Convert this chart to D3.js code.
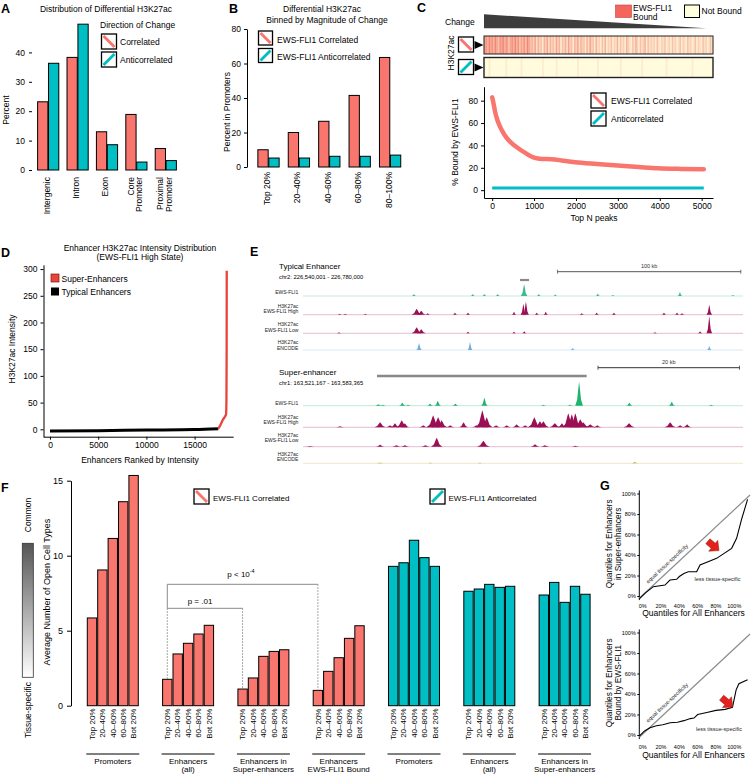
<!DOCTYPE html>
<html><head><meta charset="utf-8">
<script src="https://cdn.jsdelivr.net/npm/d3@7"></script>
<style>
html,body{margin:0;padding:0;background:#fff;}
svg{display:block;}
</style></head><body>
<svg id="fig" width="754" height="774"></svg>
<script>
// ================= DATA =================
// Panel A
const aCats = ["Intergenic","Intron","Exon","Core Promoter","Proximal Promoter"];
const aCorr = [23.2, 38.3, 13, 18.9, 7.3];
const aAnti = [36.3, 49.6, 8.6, 2.7, 3.2];
const aTicks = [0,10,20,30,40];
// Panel B
const bBins = ["Top 20%","20–40%","40–60%","60–80%","80–100%"];
const bCorr = [10, 20, 26.5, 41.5, 63.5];
const bAnti = [5.2, 5.2, 6.2, 6.2, 6.9];
const bTicks = [0,20,40,60,80];
// Panel C
const cStripes1 = "675867586476857646758574657486" + "4536253415362534263514352634153625341526" +
                  "3415231425132413251423153214253142351423" + "2314213241231423124132142312413214231241";
const cStripes2 = "000100000000001000000000100000000000001000000001000000000000010000000000001000000000000001000000000000010000000000000001000000000000000010000000000000";
const cN    = [0, 30, 70, 130, 224, 340, 463, 620, 781, 1020, 1180, 1420, 1700, 1980, 2500, 2990, 3500, 3960, 4500, 5050];
const cCorr = [83, 78, 70, 62, 54, 47, 42, 37.5, 33.5, 28.8, 27.9, 27.7, 26.3, 25, 23.4, 22, 20.7, 19.6, 19, 18.7];
const cAntiN = [0, 5050];
const cAnti = [2, 2];
const cXTicks = [0,1000,2000,3000,4000,5000];
const cYTicks = [0,20,40,60,80];
// Panel D
const dRankTypical = [0, 5000, 10000, 15000, 17460];
const dIntTypical  = [-3.2, -2.5, -1.5, -0.5, 1];
const dRankSuper = [17460, 17700, 17914, 18150, 18257, 18300, 18320, 18330];
const dIntSuper  = [1, 9, 17.4, 24, 28, 55, 150, 297];
const dXTicks = [0,5000,10000,15000];
const dYTicks = [0,50,100,150,200,250,300];
// Panel E  ([position kb, signal, half-width kb])
const eTypEWS  = [[60.5,2],[92.6,2],[98.9,2],[106.2,2],[120.6,12,1.8],[128.6,2],[137.6,1.5],[160.8,2.5],[169,1],[205.6,4],[234.5,1]];
const eTypHigh = [[20,1],[23,1],[34,1],[62,6,2.8],[64.5,4,2.5],[68,1.5],[82.9,2],[90,2],[115.1,3],[120.2,11,1.5],[121.6,13,1.6],[127.5,2],[132.4,3],[152,1.5],[160.2,2],[169.6,2],[196.9,2],[204,2],[206.7,1.5],[221.6,10,1.5]];
const eTypLow  = [[19.6,1],[62,6,2.8],[64.5,4,2.5],[90,1.5],[115.1,1.5],[120.7,2],[192,1],[216.6,2],[221.6,17,1.5]];
const eTypEnc  = [[63.3,7,1.5],[91.1,8,1.3],[147.1,2],[221.6,4]];
const eSEEWS  = [[10.65,1.5],[11.3,1],[14.04,3],[14.85,1],[17.96,2],[19.05,5],[21.54,2],[25.64,8],[33.98,1],[37.75,1],[39.03,24,0.55],[46.14,3],[52.13,4],[57.7,1]];
const eSEHigh = [[5.23,1],[10.9,5,0.8],[12.3,2],[13.0,4],[13.96,7,0.8],[14.4,4],[17,2],[18,3],[18.4,12,0.9],[19.1,10,0.9],[19.6,7,0.8],[20.8,2],[22.7,5],[24.5,2],[25.35,17,0.9],[25.97,10,0.8],[27.3,2],[28.8,2],[30.2,3],[31.4,2],[32.7,10,0.9],[33.5,6,0.8],[33.98,6,0.8],[35.6,4,0.8],[36.6,4],[37.5,14,0.8],[38.0,13,0.8],[38.5,14,0.8],[39.2,8,0.9],[39.6,5,0.9],[40.6,3,0.8],[41.6,2],[46.1,4,0.8],[51.9,5,0.8],[53.3,2],[54.3,3]];
const eSELow  = [[1,0.6],[10.9,2],[13.2,1.5],[14.4,1.5],[17.3,1.5],[18.9,9,0.8],[25.5,6,0.9],[32.8,2.5],[34.2,1.5],[38.5,1]];
const eSEEnc  = [[10.9,0.8],[18,0.6],[25,0.6],[46.9,1.2]];
const eTypRegion = [118.4, 123.3];
const eSERegion = [10.46, 40.1];
const eTypScale = [138.8, 100];
const eSEScale = [41.7, 20];
// Panel F
const fBins = ["Top 20%","20–40%","40–60%","60–80%","Bot 20%"];
const fGroups = ["Promoters","Enhancers|(all)","Enhancers in|Super-enhancers","Enhancers|EWS-FLI1 Bound","Promoters","Enhancers|(all)","Enhancers in|Super-enhancers"];
const fDirection = ["corr","corr","corr","corr","anti","anti","anti"];
const fCorrPromoters = [5.85, 9.05, 11.15, 13.6, 15.35];
const fCorrEnhAll    = [1.76, 3.45, 4.16, 4.78, 5.36];
const fCorrEnhSE     = [1.11, 1.85, 3.29, 3.62, 3.73];
const fCorrEnhBound  = [1.02, 2.29, 3.2, 4.49, 5.33];
const fAntiPromoters = [9.29, 9.53, 11.03, 9.87, 9.29];
const fAntiEnhAll    = [7.63, 7.78, 8.09, 7.89, 7.96];
const fAntiEnhSE     = [7.38, 8.22, 6.89, 7.96, 7.43];
const fTicks = [0,5,10,15];
// Panel G
const gTicks = [0,20,40,60,80,100];
const gTickLabels = ["0%","20%","40%","60%","80%","100%"];
const gDiagX = [-3.7, 117.2];
const gDiagY = [-2.2, 98.5];
const gTopX = [-3.7, 3, 11.6, 24.3, 29.8, 37, 40, 45, 49.8, 58.9, 62.6, 70, 80.7, 97.1, 102.5, 108, 114.5];
const gTopY = [-2.9, 3, 9.1, 10.7, 15.6, 16.3, 19, 22, 23.7, 23.7, 30.2, 33, 36.7, 46.5, 56.3, 75, 94.3];
const gBotX = [-3.7, 2, 8, 15, 22, 30, 38, 45, 52, 56, 60, 70, 80, 90, 98, 102, 105, 114.5];
const gBotY = [-1, 4, 7, 9, 10, 12, 12.5, 14, 16, 16.5, 20, 22, 24, 25, 27, 44, 50, 54];

// ================= DRAWING =================
const FONT = "'Liberation Sans', Arial, Helvetica, sans-serif";
const RED = "#F8766D", TEAL = "#00BFC4";
const svg = d3.select("#fig").attr("font-family", FONT);
svg.append("rect").attr("width",754).attr("height",774).attr("fill","#fff");

function txt(g, x, y, s, o = {}) {
  const t = g.append("text").attr("x", x).attr("y", y).text(s)
    .attr("font-size", o.size || 8.5).attr("fill", o.fill || "#000")
    .attr("text-anchor", o.anchor || "start");
  if (o.weight) t.attr("font-weight", o.weight);
  if (o.rotate != null) t.attr("transform", `rotate(${o.rotate},${x},${y})`);
  return t;
}
function icon(g, x, y, s, kind) {
  g.append("rect").attr("x", x).attr("y", y).attr("width", s).attr("height", s)
    .attr("fill", "#fff").attr("stroke", "#000").attr("stroke-width", 1.3);
  const p = 2;
  if (kind === "corr")
    g.append("line").attr("x1", x + p).attr("y1", y + p).attr("x2", x + s - p).attr("y2", y + s - p)
      .attr("stroke", RED).attr("stroke-width", 2.8);
  else
    g.append("line").attr("x1", x + p).attr("y1", y + s - p).attr("x2", x + s - p).attr("y2", y + p)
      .attr("stroke", TEAL).attr("stroke-width", 2.8);
}
function styleAxis(g, size, keepDomain) {
  g.attr("font-family", FONT).attr("font-size", size);
  g.selectAll("text").attr("fill", "#000");
  g.selectAll("line").attr("stroke", "#000");
  if (!keepDomain) g.select(".domain").remove();
  else g.select(".domain").attr("stroke", "#000");
}
function rotLabel(g, cx, top, lines, size, gap) {
  const n = lines.length;
  lines.forEach((ln, j) => {
    const x = cx + (j - (n - 1) / 2) * gap + size * 0.35;
    txt(g, x, top, ln, { size: size, anchor: "end", rotate: -90 });
  });
}
const intFmt = d3.format("d");

// ---------- Panel A ----------
{
  const g = svg.append("g");
  txt(g, 1, 13, "A", { size: 12.5, weight: "bold" });
  txt(g, 106, 11.5, "Distribution of Differential H3K27ac", { anchor: "middle" });
  const x = d3.scaleBand().domain(aCats).range([33.5, 180.5]).paddingInner(0.28).paddingOuter(0.14);
  const x2 = d3.scaleBand().domain(["corr", "anti"]).range([0, x.bandwidth()]).paddingInner(0.06);
  const y = d3.scaleLinear().domain([0, 50]).range([170, 23]);
  const rows = aCats.map((c, i) => ({ c, corr: aCorr[i], anti: aAnti[i] }));
  rows.forEach(r => {
    [["corr", r.corr, RED], ["anti", r.anti, TEAL]].forEach(([k, v, col]) => {
      g.append("rect").attr("x", x(r.c) + x2(k)).attr("y", y(v)).attr("width", x2.bandwidth())
        .attr("height", y(0) - y(v)).attr("fill", col).attr("stroke", "#000").attr("stroke-width", 1);
    });
    rotLabel(g, x(r.c) + x.bandwidth() / 2 - 1.5, 177, r.c.split(" "), 8.5, 8.5);
  });
  const ax = g.append("g").attr("transform", "translate(32,0)")
    .call(d3.axisLeft(y).tickValues(aTicks).tickSize(3).tickPadding(4));
  styleAxis(ax, 8.5, false);
  txt(g, 8.5, 110, "Percent", { anchor: "middle", rotate: -90 });
  txt(g, 100, 28, "Direction of Change");
  icon(g, 101.5, 34, 15, "corr");
  icon(g, 101.5, 52, 15, "anti");
  txt(g, 120, 44.5, "Correlated");
  txt(g, 120, 63, "Anticorrelated");
}

// ---------- Panel B ----------
{
  const g = svg.append("g");
  txt(g, 229, 13, "B", { size: 12.5, weight: "bold" });
  txt(g, 322, 11.5, "Differential H3K27ac", { anchor: "middle" });
  txt(g, 327, 23, "Binned by Magnitude of Change", { anchor: "middle" });
  const x = d3.scaleBand().domain(bBins).range([253.3, 405.3]).paddingInner(0.3).paddingOuter(0.15);
  const x2 = d3.scaleBand().domain(["corr", "anti"]).range([0, x.bandwidth()]).paddingInner(0.06);
  const y = d3.scaleLinear().domain([0, 80]).range([167, 29]);
  bBins.forEach((c, i) => {
    [["corr", bCorr[i], RED], ["anti", bAnti[i], TEAL]].forEach(([k, v, col]) => {
      g.append("rect").attr("x", x(c) + x2(k)).attr("y", y(v)).attr("width", x2.bandwidth())
        .attr("height", y(0) - y(v)).attr("fill", col).attr("stroke", "#000").attr("stroke-width", 1);
    });
    rotLabel(g, x(c) + x.bandwidth() / 2 - 1.5, 172, [c], 8.5, 8.5);
  });
  const ax = g.append("g").attr("transform", "translate(247,0)")
    .call(d3.axisLeft(y).tickValues(bTicks).tickSize(3).tickSizeOuter(0).tickPadding(3));
  styleAxis(ax, 8.5, true);
  txt(g, 229.5, 112, "Percent in Promoters", { anchor: "middle", rotate: -90 });
  icon(g, 258.5, 31, 14, "corr");
  icon(g, 258.5, 48.5, 14, "anti");
  txt(g, 277, 42.5, "EWS-FLI1 Correlated");
  txt(g, 277, 60, "EWS-FLI1 Anticorrelated");
}

// ---------- Panel C ----------
{
  const g = svg.append("g");
  txt(g, 417, 12, "C", { size: 12.5, weight: "bold" });
  const xH = d3.scaleBand().domain(d3.range(cStripes1.length)).range([484, 713]);
  const [h0, h1] = xH.range();
  g.append("polygon").attr("points", [[h0, 14.3], [h0, 28.3], [h0 + (h1 - h0) * 0.97, 28.3]].map(p => p.join(",")).join(" "))
    .attr("fill", "#3d3d3d");
  txt(g, 445, 24.5, "Change");
  g.append("rect").attr("x", 615.5).attr("y", 5).attr("width", 16).attr("height", 12.5).attr("fill", "#F4655C").attr("stroke", "#b44").attr("stroke-width", 0.6);
  txt(g, 633, 10.5, "EWS-FLI1");
  txt(g, 633, 19.5, "Bound");
  g.append("rect").attr("x", 684.5).attr("y", 5).attr("width", 15).attr("height", 12.5).attr("fill", "#FFFFDF").attr("stroke", "#000").attr("stroke-width", 1);
  txt(g, 701.5, 14, "Not Bound");
  const cream = "#FFFBDC", hot = "#EE5A50";
  const col = d => d3.interpolateRgb(cream, hot)(+d / 11);
  const rowsY = [[36, 18], [57.5, 20]];
  [cStripes1, cStripes2].forEach((s, r) => {
    const [ry, rh] = rowsY[r];
    g.append("rect").attr("x", h0).attr("y", ry).attr("width", h1 - h0).attr("height", rh).attr("fill", cream);
    s.split("").forEach((d, i) => {
      if (+d > 0) g.append("rect").attr("x", xH(i)).attr("y", ry).attr("width", xH.bandwidth() + 0.3).attr("height", rh).attr("fill", col(d));
    });
    g.append("rect").attr("x", h0).attr("y", ry).attr("width", h1 - h0).attr("height", rh).attr("fill", "none").attr("stroke", "#222").attr("stroke-width", r === 0 ? 1 : 1.4);
    icon(g, 458.5, ry + 1 + r * 1, 15, r === 0 ? "corr" : "anti");
    const cy = ry + rh / 2;
    g.append("polygon").attr("points", `474.5,${cy - 4} 474.5,${cy + 4} 483.5,${cy}`).attr("fill", "#000");
  });
  txt(g, 453.5, 53, "H3K27ac", { anchor: "middle", rotate: -90 });
  const x = d3.scaleLinear().domain([-195, 5270]).range([484, 713]);
  const y = d3.scaleLinear().domain([-7, 92.5]).range([198, 86.7]);
  const ax = g.append("g").attr("transform", "translate(0,198)")
    .call(d3.axisBottom(x).tickValues(cXTicks).tickFormat(intFmt).tickSize(3).tickSizeOuter(0).tickPadding(2));
  styleAxis(ax, 8.5, true);
  const ay = g.append("g").attr("transform", "translate(484,0)")
    .call(d3.axisLeft(y).tickValues(cYTicks).tickSize(3).tickSizeOuter(0).tickPadding(3));
  styleAxis(ay, 8.5, true);
  const line = d3.line().x(d => x(d[0])).y(d => y(d[1])).curve(d3.curveMonotoneX);
  g.append("path").attr("d", line(cAntiN.map((n, i) => [n, cAnti[i]]))).attr("fill", "none").attr("stroke", TEAL).attr("stroke-width", 3);
  g.append("path").attr("d", line(cN.map((n, i) => [n, cCorr[i]]))).attr("fill", "none").attr("stroke", RED).attr("stroke-width", 4.5).attr("stroke-linecap", "round");
  txt(g, 594, 221, "Top N peaks", { anchor: "middle" });
  txt(g, 458, 142, "% Bound by EWS-FLI1", { anchor: "middle", rotate: -90 });
  icon(g, 591, 93, 15, "corr");
  icon(g, 591, 111, 15, "anti");
  txt(g, 611, 104, "EWS-FLI1 Correlated");
  txt(g, 611, 121.5, "Anticorrelated");
}

// ---------- Panel D ----------
{
  const g = svg.append("g");
  txt(g, 1, 257, "D", { size: 12.5, weight: "bold" });
  txt(g, 140, 250.5, "Enhancer H3K27ac Intensity Distribution", { anchor: "middle" });
  txt(g, 140, 259.5, "(EWS-FLI1 High State)", { anchor: "middle" });
  const x = d3.scaleLinear().domain([-695, 19000]).range([43.3, 233.2]);
  const y = d3.scaleLinear().domain([-14, 308]).range([436.8, 264.8]);
  const ax = g.append("g").attr("transform", "translate(0,436.7)")
    .call(d3.axisBottom(x).tickValues(dXTicks).tickFormat(intFmt).tickSize(3).tickSizeOuter(0).tickPadding(2));
  styleAxis(ax, 8.5, true);
  const ay = g.append("g").attr("transform", "translate(43.5,0)")
    .call(d3.axisLeft(y).tickValues(dYTicks).tickSize(3).tickSizeOuter(0).tickPadding(3));
  styleAxis(ay, 8.5, true);
  const line = d3.line().x(d => x(d[0])).y(d => y(d[1])).curve(d3.curveMonotoneX);
  g.append("path").attr("d", line(dRankTypical.map((r, i) => [r, dIntTypical[i]]))).attr("fill", "none").attr("stroke", "#000").attr("stroke-width", 3);
  g.append("path").attr("d", line(dRankSuper.map((r, i) => [r, dIntSuper[i]]))).attr("fill", "none").attr("stroke", "#E8443C").attr("stroke-width", 2.3);
  txt(g, 140, 462.5, "Enhancers Ranked by Intensity", { anchor: "middle" });
  txt(g, 14.5, 349, "H3K27ac Intensity", { anchor: "middle", rotate: -90 });
  g.append("rect").attr("x", 51).attr("y", 274).attr("width", 8).attr("height", 8).attr("fill", "#E8443C").attr("stroke", "#7a1a14").attr("stroke-width", 0.7);
  txt(g, 61.5, 281.5, "Super-Enhancers");
  g.append("rect").attr("x", 51).attr("y", 287.5).attr("width", 8).attr("height", 8).attr("fill", "#000");
  txt(g, 61.5, 295, "Typical Enhancers");
}

// ---------- Panel E ----------
{
  const g = svg.append("g");
  txt(g, 250, 256, "E", { size: 12.5, weight: "bold" });
  const xT = d3.scaleLinear().domain([0, 240]).range([303, 743]);
  const xS = d3.scaleLinear().domain([0, 62.2]).range([303, 743]);
  const hS = d3.scaleLinear().domain([0, 30]).range([0, 30]);
  const drawTrack = (x, base, peaks, color, hwDef, labels, labelYs) => {
    g.append("line").attr("x1", x.range()[0]).attr("x2", x.range()[1]).attr("y1", base).attr("y2", base)
      .attr("stroke", color).attr("stroke-opacity", 0.35).attr("stroke-width", 0.8);
    peaks.forEach(p => {
      const [pos, h, hw0] = p; const hw = hw0 || hwDef;
      const pts = [[pos - hw, 0], [pos - hw * 0.5, h * 0.25], [pos - hw * 0.15, h * 0.8], [pos, h], [pos + hw * 0.15, h * 0.8], [pos + hw * 0.5, h * 0.25], [pos + hw, 0]];
      g.append("polygon").attr("points", pts.map(q => [x(q[0]), base - hS(q[1])].join(",")).join(" ")).attr("fill", color);
    });
    labels.forEach((l, i) => txt(g, 298.3, labelYs[i], l, { size: 5, anchor: "end", fill: "#222" }));
  };
  txt(g, 279, 268.5, "Typical Enhancer", { size: 8 });
  txt(g, 279, 278.5, "chr2: 226,540,001 - 226,780,000", { size: 5.8 });
  const sb1 = [xT(eTypScale[0]), xT(eTypScale[0] + eTypScale[1])];
  g.append("line").attr("x1", sb1[0]).attr("x2", sb1[1]).attr("y1", 271.7).attr("y2", 271.7).attr("stroke", "#555").attr("stroke-width", 1);
  sb1.forEach(v => g.append("line").attr("x1", v).attr("x2", v).attr("y1", 269.7).attr("y2", 273.7).attr("stroke", "#555").attr("stroke-width", 0.8));
  txt(g, (sb1[0] + sb1[1]) / 2, 268, "100 kb", { size: 5.5, anchor: "middle", fill: "#333" });
  g.append("line").attr("x1", xT(eTypRegion[0])).attr("x2", xT(eTypRegion[1])).attr("y1", 280).attr("y2", 280).attr("stroke", "#888").attr("stroke-width", 2.2);
  drawTrack(xT, 296, eTypEWS, "#3DBB8C", 1.2, ["EWS-FLI1"], [293.5]);
  drawTrack(xT, 314.7, eTypHigh, "#9B0F55", 1.2, ["H3K27ac", "EWS-FLI1 High"], [307.5, 313]);
  drawTrack(xT, 333.3, eTypLow, "#9B0F55", 1.2, ["H3K27ac", "EWS-FLI1 Low"], [326, 331.5]);
  drawTrack(xT, 350, eTypEnc, "#6FAEDB", 1.2, ["H3K27ac", "ENCODE"], [344, 349.5]);
  txt(g, 279, 374.5, "Super-enhancer", { size: 8 });
  txt(g, 279, 384.8, "chr1: 163,521,167 - 163,583,365", { size: 5.8 });
  const sb2 = [xS(eSEScale[0]), xS(eSEScale[0] + eSEScale[1])];
  g.append("line").attr("x1", sb2[0]).attr("x2", sb2[1]).attr("y1", 367.7).attr("y2", 367.7).attr("stroke", "#333").attr("stroke-width", 1);
  sb2.forEach(v => g.append("line").attr("x1", v).attr("x2", v).attr("y1", 365.7).attr("y2", 369.7).attr("stroke", "#333").attr("stroke-width", 0.8));
  txt(g, (sb2[0] + sb2[1]) / 2, 364, "20 kb", { size: 5.5, anchor: "middle", fill: "#333" });
  g.append("line").attr("x1", xS(eSERegion[0])).attr("x2", xS(eSERegion[1])).attr("y1", 376).attr("y2", 376).attr("stroke", "#888").attr("stroke-width", 2.5);
  drawTrack(xS, 405.7, eSEEWS, "#1DB46C", 0.45, ["EWS-FLI1"], [404.8]);
  drawTrack(xS, 427.3, eSEHigh, "#9B0F55", 0.6, ["H3K27ac", "EWS-FLI1 High"], [418.5, 423.5]);
  drawTrack(xS, 446.7, eSELow, "#9B0F55", 0.6, ["H3K27ac", "EWS-FLI1 Low"], [436.8, 441.8]);
  drawTrack(xS, 463.3, eSEEnc, "#C9A43A", 0.5, ["H3K27ac", "ENCODE"], [455.8, 460.8]);
}

// ---------- Panel F ----------
{
  const g = svg.append("g");
  txt(g, 1, 492, "F", { size: 12.5, weight: "bold" });
  const grad = svg.append("defs").append("linearGradient").attr("id", "gbar").attr("x1", 0).attr("y1", 0).attr("x2", 0).attr("y2", 1);
  grad.append("stop").attr("offset", "0").attr("stop-color", "#555");
  grad.append("stop").attr("offset", "1").attr("stop-color", "#fff");
  g.append("rect").attr("x", 22.3).attr("y", 543.3).attr("width", 11).attr("height", 134).attr("fill", "url(#gbar)").attr("stroke", "#333").attr("stroke-width", 0.8);
  txt(g, 31, 515, "Common", { anchor: "middle", rotate: -90 });
  txt(g, 31, 710, "Tissue-specific", { anchor: "middle", rotate: -90 });
  const fVals = [fCorrPromoters, fCorrEnhAll, fCorrEnhSE, fCorrEnhBound, fAntiPromoters, fAntiEnhAll, fAntiEnhSE];
  const xg = d3.scaleBand().domain(d3.range(fGroups.length)).range([87.3, 590.1]).paddingInner(0.323).paddingOuter(0);
  const xb = d3.scaleBand().domain(fBins).range([0, xg.bandwidth()]).paddingInner(0.1);
  const y = d3.scaleLinear().domain([0, 15]).range([705.7, 480.7]);
  fVals.forEach((vals, gi) => {
    const colr = fDirection[gi] === "corr" ? RED : TEAL;
    fBins.forEach((b, bi) => {
      const v = vals[bi];
      g.append("rect").attr("x", xg(gi) + xb(b)).attr("y", y(v)).attr("width", xb.bandwidth()).attr("height", y(0) - y(v))
        .attr("fill", colr).attr("stroke", "#000").attr("stroke-width", 1);
      rotLabel(g, xg(gi) + xb(b) + xb.bandwidth() / 2, 708.5, [b], 8, 8);
    });
    const gx0 = xg(gi) - 1, gx1 = xg(gi) + xg.bandwidth() + 1;
    g.append("line").attr("x1", gx0).attr("x2", gx1).attr("y1", 754).attr("y2", 754).attr("stroke", "#000").attr("stroke-width", 1);
    const lines = fGroups[gi].split("|");
    lines.forEach((l, j) => txt(g, (gx0 + gx1) / 2, 764 + j * 7.6, l, { size: 8, anchor: "middle" }));
  });
  const ay = g.append("g").attr("transform", "translate(71,0)")
    .call(d3.axisLeft(y).tickValues(fTicks).tickSize(4).tickSizeOuter(0).tickPadding(4));
  styleAxis(ay, 9, true);
  txt(g, 50, 592, "Average Number of Open Cell Types", { size: 9, anchor: "middle", rotate: -90 });
  icon(g, 194, 489, 15, "corr");
  txt(g, 213, 500.5, "EWS-FLI1 Correlated", { size: 8 });
  icon(g, 430, 489, 15, "anti");
  txt(g, 448.5, 500.5, "EWS-FLI1 Anticorrelated", { size: 8 });
  const cx = (gi, bi) => xg(gi) + xb(fBins[bi]) + xb.bandwidth() / 2;
  const yOuter = 584.3, yInner = 608.3;
  const gray = "#8a8a8a";
  const L = (x1, y1, x2, y2, dash) => {
    const l = g.append("line").attr("x1", x1).attr("y1", y1).attr("x2", x2).attr("y2", y2).attr("stroke", gray).attr("stroke-width", 1);
    if (dash) l.attr("stroke-dasharray", "1.5,1.5");
  };
  L(cx(1, 0), yOuter, cx(3, 0), yOuter);
  L(cx(1, 0), yOuter, cx(1, 0), yInner);
  L(cx(1, 0), yInner, cx(2, 0), yInner);
  L(cx(1, 0), yInner, cx(1, 0), y(fCorrEnhAll[0]), true);
  L(cx(2, 0), yInner, cx(2, 0), y(fCorrEnhSE[0]), true);
  L(cx(3, 0), yOuter, cx(3, 0), y(fCorrEnhBound[0]), true);
  const tp = txt(g, 241, 576.5, "p < 10", { size: 8, anchor: "middle" });
  tp.append("tspan").attr("dy", -3.5).attr("font-size", 5.5).text("-4");
  txt(g, 200, 603.5, "p = .01", { size: 8, anchor: "middle" });
}

// ---------- Panel G ----------
{
  const g = svg.append("g");
  txt(g, 600, 490, "G", { size: 12.5, weight: "bold" });
  const x = d3.scaleLinear().domain([0, 100]).range([642.7, 734.3]);
  const panels = [
    { y: d3.scaleLinear().domain([0, 100]).range([596, 493.5]), cx: gTopX, cy: gTopY, lab: ["Quantiles for Enhancers", "in Super-enhancers"], xlabY: 615.5, tickY: 608, arrow: [77, 49], less: [717.5, 580.5] },
    { y: d3.scaleLinear().domain([0, 100]).range([735, 632.5]), cx: gBotX, cy: gBotY, lab: ["Quantiles for Enhancers", "Bound by EWS-FLI1"], xlabY: 758, tickY: 748.5, arrow: [92, 32], less: [719, 730.5] }
  ];
  panels.forEach(P => {
    const y = P.y;
    const ay = g.append("g").attr("transform", "translate(639.3,0)")
      .call(d3.axisLeft(y).tickValues(gTicks).tickFormat((d, i) => gTickLabels[i]).tickSize(2).tickSizeOuter(0).tickPadding(1.5));
    styleAxis(ay, 5.5, false);
    g.append("line").attr("x1", 639.3).attr("x2", 639.3).attr("y1", y(-4)).attr("y2", y(103)).attr("stroke", "#000").attr("stroke-width", 1);
    gTicks.forEach((t, i) => txt(g, x(t), P.tickY, gTickLabels[i], { size: 5.5, anchor: "middle" }));
    txt(g, 693.5, P.xlabY, "Quantiles for All Enhancers", { size: 8.5, anchor: "middle" });
    const yc = (y(0) + y(100)) / 2 - 1;
    txt(g, 612.3, yc, P.lab[0], { size: 8.3, anchor: "middle", rotate: -90 });
    txt(g, 620.5, yc, P.lab[1], { size: 8.3, anchor: "middle", rotate: -90 });
    const line = d3.line().x(d => x(d[0])).y(d => y(d[1]));
    g.append("path").attr("d", line(gDiagX.map((v, i) => [v, gDiagY[i]]))).attr("stroke", "#8c8c8c").attr("stroke-width", 1.2).attr("fill", "none");
    g.append("path").attr("d", line(P.cx.map((v, i) => [v, P.cy[i]]))).attr("stroke", "#000").attr("stroke-width", 1.1).attr("fill", "none");
    const ang = Math.atan2(y(gDiagY[1]) - y(gDiagY[0]), x(gDiagX[1]) - x(gDiagX[0])) * 180 / Math.PI;
    const t0 = 0.29;
    const px = x(gDiagX[0]) + t0 * (x(gDiagX[1]) - x(gDiagX[0]));
    const py = y(gDiagY[0]) + t0 * (y(gDiagY[1]) - y(gDiagY[0]));
    g.append("text").attr("transform", `translate(${px},${py}) rotate(${ang})`).attr("y", -4.5)
      .attr("text-anchor", "middle").attr("font-size", 5.5).attr("fill", "#222").text("equal tissue-specificity");
    txt(g, P.less[0], P.less[1], "less tissue-specific", { size: 5.5, anchor: "middle", fill: "#222" });
    const ar = [[-7, -3.2], [0, -3.2], [0, -7], [7.5, 0], [0, 7], [0, 3.2], [-7, 3.2]];
    g.append("polygon").attr("points", ar.map(p => p.join(",")).join(" "))
      .attr("transform", `translate(${x(P.arrow[0])},${y(P.arrow[1])}) rotate(40)`)
      .attr("fill", "#E4221B").attr("stroke", "#9a1510").attr("stroke-width", 0.5);
  });
}
</script></body></html>
